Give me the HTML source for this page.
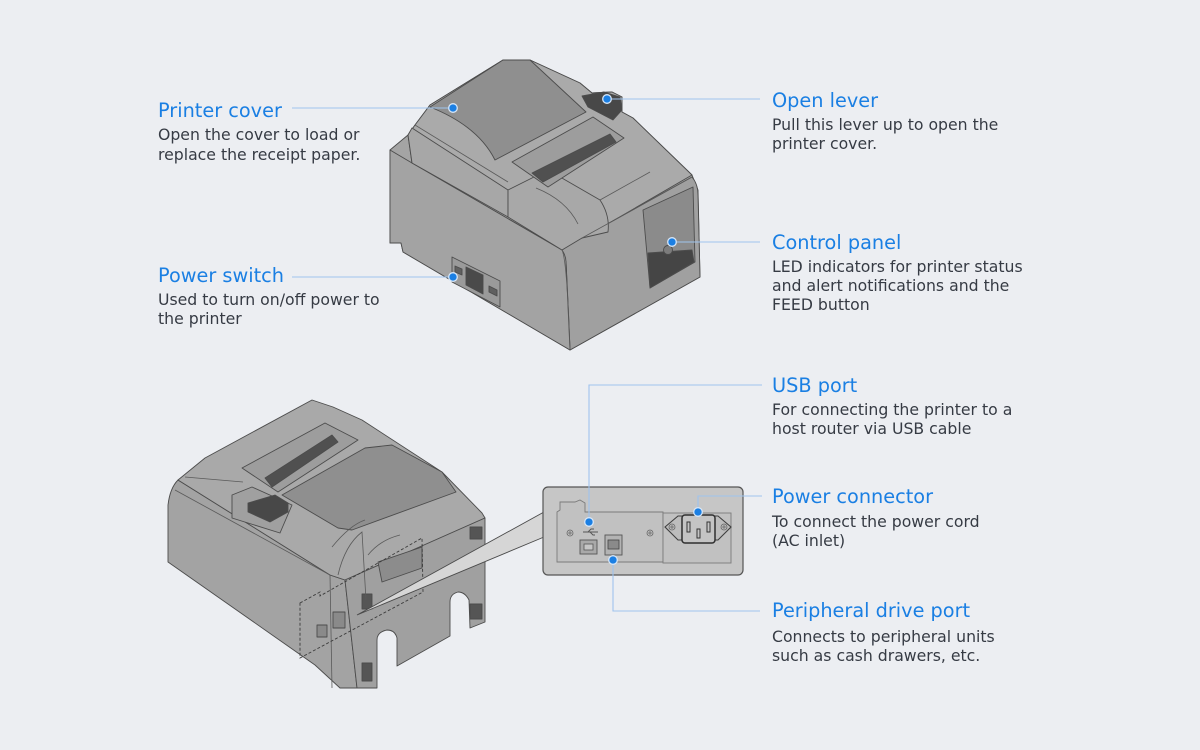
<!DOCTYPE html>
<html><head><meta charset="utf-8"><style>
html,body{margin:0;padding:0;background:#eceef2;}
svg{display:block;}
.t{font-family:"DejaVu Sans","Liberation Sans",sans-serif;font-size:19.3px;fill:#1a7fe3;}
.d{font-family:"DejaVu Sans","Liberation Sans",sans-serif;font-size:15.7px;fill:#363b44;}
.ln{stroke:#9fc4ee;stroke-width:1.1;fill:none;}
.dot{fill:#1b7fe3;stroke:#d6e6f8;stroke-width:1.3;}
.o{stroke:#4c4c4c;stroke-width:0.9;stroke-linejoin:round;}
</style></head><body>
<svg width="1200" height="750" viewBox="0 0 1200 750" xmlns="http://www.w3.org/2000/svg">
<rect width="1200" height="750" fill="#eceef2"/>

<!-- ========== TOP PRINTER ========== -->
<g class="o">
  <path d="M390,150 L390,243 L401,243 L403,252 L420,262 L570,350 L700,277 L698,190 L692,175 L633,118 L622,112 L622,97 L612,92 L592,93 L580,83 L530,60 L503,60 L430,105 L415,125 L408,135 Z" fill="#a4a4a4"/>
  <path d="M408,135 L415,125 L430,105 L503,60 L530,60 L580,83 L592,93 L612,92 L622,97 L622,112 L633,118 L692,175 L580,240 L562,250 L412,163 Z" fill="#aaaaaa"/>
  <path d="M562,250 Q570,243 582,238 L692,177 Q698,184 698,195 L700,277 L570,350 Q568,300 566,262 Z" fill="#a0a0a0"/>
  <path d="M390,150 L412,163 L562,250 Q566,256 566,262 L570,350 L420,262 L403,252 L401,243 L390,243 Z" fill="#a3a3a3"/>
  <path d="M408,135 L412,128 L508,190 L508,217 L412,163 Z" fill="#a7a7a7"/>
  <path d="M508,190 L548,170 L600,200 Q610,215 608,232 L582,238 L562,250 L508,217 Z" fill="#a8a8a8"/>
  <!-- cover -->
  <path d="M430,107 L503,60 L530,60 L586,112 L495,160 Q478,126 430,107 Z" fill="#8f8f8f"/>
  <!-- slot -->
  <path d="M512,162 L593,117 L624,138 L548,187 Z" fill="#9d9d9d"/>
  <path d="M532,173 L610,134 L616,142 L543,182 Z" fill="#505050"/>
  <!-- lever -->
  <path d="M582,96 L604,92 L620,97 L622,110 L613,120 L588,107 Z" fill="#484848"/>
  <!-- control panel recess -->
  <path d="M643,210 L693,187 L695,262 L650,288 Z" fill="#8b8b8b"/>
  <path d="M648,253 L692,250 L694,262 L650,288 Z" fill="#454545"/>
  <circle cx="668" cy="250" r="4.5" fill="#7c7c7c"/>
  <!-- power switch plate -->
  <path d="M452,257 L500,281 L500,307 L452,282 Z" fill="#9a9a9a"/>
  <path d="M466,267 L483,275 L483,294 L466,285 Z" fill="#4a4a4a"/>
  <path d="M455,266 L462,269 L462,275 L455,272 Z" fill="#606060"/>
  <path d="M489,286 L497,290 L497,296 L489,292 Z" fill="#606060"/>
</g>
<g stroke="#5a5a5a" stroke-width="0.8" fill="none">
  <path d="M562,250 Q567,260 570,350"/>
  <path d="M582,238 L692,177"/>
  <path d="M415,125 L508,182"/>
  <path d="M600,200 L650,172"/>
  <path d="M536,188 Q566,200 578,224"/>
</g>

<!-- ========== BOTTOM PRINTER ========== -->
<g class="o">
  <path d="M168,505 Q170,488 178,480 L330,575 L345,580 L357,688 L340,688 L315,665 L168,562 Z" fill="#a3a3a3"/>
  <path d="M178,480 L205,458 L312,400 L333,407 L362,420 L442,472 L482,513 L485,518 L345,580 L330,575 Z" fill="#a9a9a9"/>
  <path d="M345,580 L485,518 L485,622 L470,628 L469,600 Q465,592 458,592 Q450,594 450,602 L450,636 L397,666 L397,638 Q395,630 387,630 Q377,632 377,640 L377,688 L357,688 Z" fill="#a0a0a0"/>
  <!-- lever recess -->
  <path d="M232,495 L252,487 L292,505 L280,533 L232,518 Z" fill="#a0a0a0"/>
  <!-- cover -->
  <path d="M282,495 L365,448 L392,445 L442,472 L456,492 L352,530 L338,528 Z" fill="#8f8f8f"/>
  <!-- slot -->
  <path d="M242,468 L325,423 L358,440 L278,492 Z" fill="#9d9d9d"/>
  <path d="M265,478 L332,435 L338,442 L272,487 Z" fill="#505050"/>
  <!-- lever -->
  <path d="M248,503 L275,495 L288,503 L288,512 L270,522 L248,512 Z" fill="#484848"/>
  <!-- inlet recess -->
  <path d="M378,562 L422,547 L422,568 L382,582 Z" fill="#8c8c8c"/>
  <!-- feet -->
  <rect x="470" y="527" width="12" height="12" fill="#555"/>
  <rect x="362" y="594" width="10" height="15" fill="#555"/>
  <rect x="470" y="604" width="12" height="15" fill="#555"/>
  <rect x="362" y="663" width="10" height="18" fill="#555"/>
  <!-- ports -->
  <rect x="317" y="625" width="10" height="12" fill="#8a8a8a"/>
  <rect x="333" y="612" width="12" height="16" fill="#8a8a8a"/>
</g>
<g stroke="#5a5a5a" stroke-width="0.8" fill="none">
  <path d="M330,575 L332,688"/>
  <path d="M175,490 L330,575"/>
  <path d="M185,477 L243,482"/>
  <path d="M332,547 Q350,525 365,520"/>
  <path d="M338,575 Q345,545 362,532 L366,600"/>
  <path d="M368,555 Q380,540 400,535"/>
</g>
<!-- dashed box -->
<path d="M300,603 L320,592 L320,596 L422,538 L423,592 L300,658 Z" fill="none" stroke="#3c3c3c" stroke-width="0.9" stroke-dasharray="3,2"/>

<!-- wedge -->
<path d="M357,615 L544,512 L544,537 Z" fill="#d6d6d6" stroke="#4a4a4a" stroke-width="0.9"/>

<!-- ========== PORT PANEL ========== -->
<rect x="543" y="487" width="200" height="88" rx="5" fill="#c6c6c6" stroke="#555" stroke-width="1.2"/>
<path d="M557,562 L557,512 L560,510 L560,502 L575,502 L580,500 L585,503 L585,512 L663,512 L663,562 Z" fill="#c1c1c1" stroke="#7a7a7a" stroke-width="0.9"/>
<rect x="663" y="513" width="68" height="50" fill="#c1c1c1" stroke="#7a7a7a" stroke-width="0.9"/>
<path d="M665,527 L678,516 L718,516 L731,527 L718,540 L678,540 Z" fill="#bdbdbd" stroke="#3f3f3f" stroke-width="1.1"/>
<rect x="682" y="515" width="33" height="28" rx="3" fill="#c4c4c4" stroke="#2f2f2f" stroke-width="1.5"/>
<rect x="687" y="522" width="3" height="10" fill="none" stroke="#333" stroke-width="1"/>
<rect x="707" y="522" width="3" height="10" fill="none" stroke="#333" stroke-width="1"/>
<rect x="697" y="529" width="3" height="9" fill="none" stroke="#333" stroke-width="1"/>
<g fill="none" stroke="#666" stroke-width="0.8">
  <circle cx="672" cy="527" r="3"/><circle cx="724" cy="527" r="3"/>
  <circle cx="570" cy="533" r="3"/><circle cx="650" cy="533" r="3"/>
  <path d="M670,527 h4 M672,525 v4 M722,527 h4 M724,525 v4 M568,533 h4 M570,531 v4 M648,533 h4 M650,531 v4"/>
</g>
<path d="M583,532 L598,532 M588,532 L591,529 L594,529 M590,532 L593,535 L595,535" stroke="#555" stroke-width="0.9" fill="none"/>
<rect x="580" y="540" width="17" height="14" fill="#a9a9a9" stroke="#555" stroke-width="0.9"/>
<rect x="584" y="544" width="9" height="6" fill="#c6c6c6" stroke="#555" stroke-width="0.8"/>
<rect x="605" y="535" width="17" height="20" fill="#b3b3b3" stroke="#555" stroke-width="0.9"/>
<rect x="608" y="540" width="11" height="9" fill="#8a8a8a" stroke="#444" stroke-width="0.8"/>

<!-- ========== CONNECTORS ========== -->
<path class="ln" d="M292,108 L453,108"/>
<path class="ln" d="M292,277 L453,277"/>
<path class="ln" d="M607,99 L760,99"/>
<path class="ln" d="M672,242 L760,242"/>
<path class="ln" d="M589,522 L589,385 L762,385"/>
<path class="ln" d="M698,512 L698,496 L762,496"/>
<path class="ln" d="M613,560 L613,611 L760,611"/>
<circle class="dot" cx="453" cy="108" r="4.3"/>
<circle class="dot" cx="453" cy="277" r="4.3"/>
<circle class="dot" cx="607" cy="99" r="4.3"/>
<circle class="dot" cx="672" cy="242" r="4.3"/>
<circle class="dot" cx="589" cy="522" r="4.3"/>
<circle class="dot" cx="698" cy="512" r="4.3"/>
<circle class="dot" cx="613" cy="560" r="4.3"/>

<!-- ========== TEXT ========== -->
<text class="t" x="158" y="117">Printer cover</text>
<text class="d" x="158" y="140">Open the cover to load or</text>
<text class="d" x="158" y="160">replace the receipt paper.</text>

<text class="t" x="158" y="282">Power switch</text>
<text class="d" x="158" y="305">Used to turn on/off power to</text>
<text class="d" x="158" y="324">the printer</text>

<text class="t" x="772" y="107">Open lever</text>
<text class="d" x="772" y="130">Pull this lever up to open the</text>
<text class="d" x="772" y="149">printer cover.</text>

<text class="t" x="772" y="249">Control panel</text>
<text class="d" x="772" y="272">LED indicators for printer status</text>
<text class="d" x="772" y="291">and alert notifications and the</text>
<text class="d" x="772" y="310">FEED button</text>

<text class="t" x="772" y="392">USB port</text>
<text class="d" x="772" y="415">For connecting the printer to a</text>
<text class="d" x="772" y="434">host router via USB cable</text>

<text class="t" x="772" y="503">Power connector</text>
<text class="d" x="772" y="527">To connect the power cord</text>
<text class="d" x="772" y="546">(AC inlet)</text>

<text class="t" x="772" y="617">Peripheral drive port</text>
<text class="d" x="772" y="642">Connects to peripheral units</text>
<text class="d" x="772" y="661">such as cash drawers, etc.</text>
</svg>
</body></html>
